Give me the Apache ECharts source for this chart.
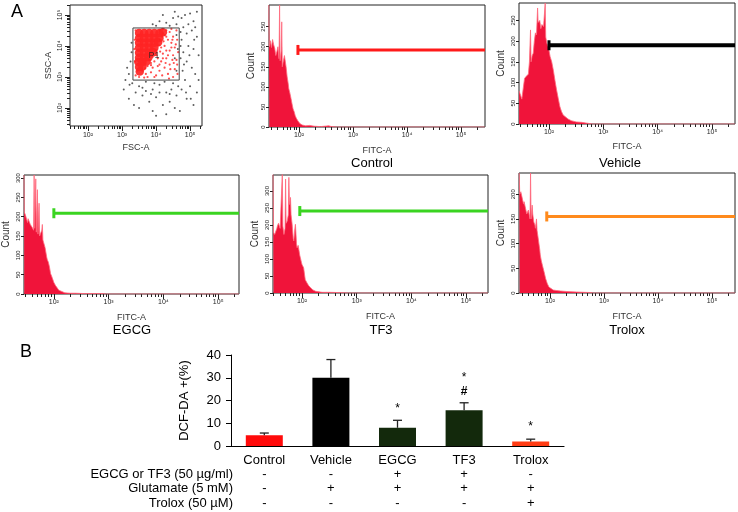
<!DOCTYPE html>
<html>
<head>
<meta charset="utf-8">
<script src="https://cdn.jsdelivr.net/npm/echarts@6/dist/echarts.min.js"></script>
<style>html,body{margin:0;padding:0;background:#fff}#c{width:738px;height:512px}</style>
</head>
<body>
<div id="c"></div>
<script>
// ---------------- DATA ----------------
const barCategories = ['Control', 'Vehicle', 'EGCG', 'TF3', 'Trolox'];
const barValues = [4.7, 30, 8, 15.7, 2];
const barErrors = [1.0, 8, 3.3, 3.3, 1.0];
const sigStar = ['', '', '*', '*', '*'];
const sigHash = ['', '', '', '#', ''];
const rowLabels = ['EGCG or TF3 (50 µg/ml)', 'Glutamate (5 mM)', 'Trolox (50 µM)'];
const rowEgcgTf3 = ['-', '-', '+', '+', '-'];
const rowGlutamate = ['-', '+', '+', '+', '+'];
const rowTrolox = ['-', '-', '-', '-', '+'];
const yTicksBar = [0, 10, 20, 30, 40];

const logMajor = [2, 3, 4, 5];
const logLabels = ['10²', '10³', '10⁴', '10⁵'];

// FITC-A histograms: [log10(FITC), count]
const histControl = [[1.44,304],[1.45,200],[1.47,215],[1.49,198],[1.51,218],[1.53,205],[1.55,196],[1.57,178],[1.59,188],[1.61,200],[1.63,170],[1.64,304],[1.65,165],[1.67,190],[1.68,262],[1.69,150],[1.71,165],[1.73,178],[1.75,182],[1.76,150],[1.78,125],[1.8,108],[1.81,96],[1.83,85],[1.85,72],[1.87,58],[1.89,45],[1.91,38],[1.93,28],[1.95,22],[1.98,15],[2.02,8],[2.06,5],[2.12,3],[2.2,4],[2.28,2],[2.4,1],[2.55,3],[2.6,1],[2.7,0],[5.44,0]];
const histVehicle = [[1.45,80],[1.47,82],[1.5,60],[1.53,58],[1.55,110],[1.58,115],[1.6,118],[1.62,120],[1.64,150],[1.66,227],[1.67,150],[1.69,165],[1.71,171],[1.73,200],[1.75,220],[1.77,215],[1.79,280],[1.8,245],[1.83,250],[1.85,230],[1.87,240],[1.9,235],[1.93,292],[1.94,210],[1.96,195],[1.99,185],[2.02,163],[2.05,150],[2.08,130],[2.11,105],[2.14,82],[2.17,62],[2.2,42],[2.23,30],[2.26,22],[2.29,18],[2.35,12],[2.41,8],[2.5,5],[2.6,4],[2.7,2],[2.8,0],[5.42,0]];
const histEgcg = [[1.455,308],[1.46,212],[1.48,205],[1.5,203],[1.52,185],[1.53,195],[1.55,198],[1.57,180],[1.59,175],[1.61,171],[1.63,165],[1.64,308],[1.65,170],[1.67,298],[1.68,160],[1.7,270],[1.71,155],[1.73,235],[1.74,150],[1.76,153],[1.78,165],[1.79,180],[1.8,140],[1.82,143],[1.84,120],[1.85,116],[1.87,95],[1.88,89],[1.9,82],[1.92,70],[1.94,53],[1.96,46],[1.98,38],[2.0,30],[2.03,22],[2.06,16],[2.09,10],[2.12,7],[2.2,3],[2.3,2],[2.4,2],[2.57,1],[2.88,1],[2.95,0],[5.38,0]];
const histTf3 = [[1.47,350],[1.48,178],[1.5,172],[1.52,168],[1.54,190],[1.55,197],[1.57,205],[1.58,202],[1.6,190],[1.61,187],[1.63,195],[1.64,350],[1.65,197],[1.67,172],[1.69,190],[1.7,335],[1.71,205],[1.73,212],[1.75,230],[1.76,340],[1.77,260],[1.79,281],[1.8,230],[1.82,202],[1.84,160],[1.85,153],[1.87,190],[1.88,202],[1.9,145],[1.91,133],[1.93,140],[1.94,138],[1.96,110],[1.97,104],[1.99,90],[2.0,84],[2.03,74],[2.05,50],[2.06,39],[2.09,30],[2.12,22],[2.16,15],[2.2,9],[2.25,5],[2.37,2],[2.5,2],[2.74,1],[2.85,0],[5.4,0]];
const histTrolox = [[1.43,243],[1.44,200],[1.46,205],[1.48,195],[1.49,192],[1.51,180],[1.52,185],[1.54,175],[1.55,172],[1.57,160],[1.58,158],[1.6,168],[1.61,165],[1.63,150],[1.64,243],[1.65,150],[1.67,178],[1.68,160],[1.7,144],[1.72,138],[1.73,131],[1.75,150],[1.76,127],[1.78,112],[1.79,104],[1.81,88],[1.82,77],[1.84,65],[1.86,56],[1.89,43],[1.92,29],[1.95,19],[1.98,12],[2.0,9],[2.06,6],[2.12,5],[2.2,4],[2.31,3],[2.49,2],[2.73,1],[2.8,0],[5.43,0]];

// gate markers: [start log10, end log10, count]
const gateControl = [1.98, 5.444, 192];
const gateVehicle = [2.0, 5.423, 190];
const gateEgcg = [2.0, 5.38, 209];
const gateTf3 = [1.96, 5.40, 241];
const gateTrolox = [1.94, 5.426, 155];

const yTicksControl = [0, 50, 100, 150, 200, 250];
const yTicksVehicle = [0, 50, 100, 150, 200, 250];
const yTicksEgcg = [0, 50, 100, 150, 200, 250, 300];
const yTicksTf3 = [0, 50, 100, 150, 200, 250, 300, 350];
const yTicksTrolox = [0, 50, 100, 150, 200];

// FSC-A / SSC-A dot plot (log10 units)
const gateP1 = [[3.32,4.58],[4.68,4.58],[4.68,2.9],[3.32,2.9],[3.32,4.58]];
const p1Label = [3.94, 3.68];
const scatterRedDense = [
 [3.5,4.42],[3.65,4.42],[3.8,4.42],[3.95,4.42],[4.1,4.42],[4.2,4.44],
 [3.5,4.26],[3.65,4.26],[3.8,4.26],[3.95,4.26],[4.1,4.26],
 [3.5,4.1],[3.65,4.1],[3.8,4.1],[3.95,4.1],[4.06,4.12],
 [3.5,3.94],[3.65,3.94],[3.8,3.94],[3.95,3.94],
 [3.5,3.78],[3.65,3.78],[3.8,3.78],[3.92,3.8],
 [3.5,3.62],[3.65,3.62],[3.78,3.64],
 [3.48,3.48],[3.6,3.48],[3.72,3.5],
 [3.5,3.32],[3.6,3.34],[3.52,3.18]
];
const scatterRedSparse = [[4.1,4.5],[4.2,4.4],[4.3,4.5],[4.4,4.45],[4.5,4.3],[4.6,4.5],[4.35,4.2],[4.45,4.1],[4.25,4.0],[4.55,3.95],[4.4,3.85],[4.2,3.75],[4.5,3.7],[4.3,3.6],[4.6,3.55],[4.15,3.5],[4.4,3.4],[4.25,3.3],[4.55,3.25],[4.1,3.2],[4.35,3.1],[4.0,3.05],[4.5,3.0],[3.9,3.3],[3.85,3.15],[3.95,3.0],[3.75,3.35],[3.7,3.1],[3.65,2.98],[3.45,3.2],[3.4,3.05],[3.38,3.5],[3.36,3.9],[3.37,4.2],[3.4,4.5],[4.62,4.2],[4.65,3.8],[4.62,3.4],[4.63,3.1],[4.05,3.6],[4.0,3.85],[4.15,3.95],[4.3,3.85],[4.45,4.55],[4.2,4.55],[4.05,3.35],[3.8,3.55],[3.85,3.45],[4.48,3.55],[4.58,4.05],[4.12,4.2],[4.22,4.15],[3.6,3.2],[3.5,3.0],[3.75,3.0],[4.28,3.45],[4.42,3.25],[4.18,3.05],[4.38,2.95],[4.52,3.45],[4.3,4.3],[4.48,4.2],[4.35,3.7],[4.2,3.6],[4.1,3.4],[3.95,3.5],[4.45,3.95],[4.25,4.35],[4.08,4.02],[4.18,4.3],[4.02,3.7],[3.9,3.65],[4.12,3.82],[3.85,3.38],[3.68,3.28]];
const scatterBlack = [[4.75,4.9],[4.85,5.0],[5.0,5.05],[5.1,4.8],[5.2,5.1],[4.8,4.6],[4.9,4.4],[5.05,4.5],[5.2,4.3],[4.75,4.2],[4.95,4.0],[5.1,3.9],[4.8,3.8],[5.25,3.7],[4.9,3.5],[5.05,3.3],[4.78,3.2],[5.15,3.1],[4.85,2.9],[5.0,2.7],[5.2,2.5],[4.9,2.3],[5.1,2.1],[4.75,2.6],[5.25,2.9],[4.72,3.6],[4.72,4.0],[4.95,4.7],[5.15,4.6],[4.72,4.45],
 [3.9,4.7],[4.1,4.8],[4.3,4.75],[4.5,4.9],[4.6,4.7],[4.2,5.0],[4.4,4.65],[4.0,4.65],[4.55,5.1],[4.65,4.95],
 [3.3,2.8],[3.5,2.7],[3.7,2.85],[3.9,2.6],[4.1,2.75],[4.3,2.5],[4.5,2.8],[4.6,2.4],[3.6,2.4],[3.8,2.2],[4.0,2.35],[4.2,2.1],[4.4,2.2],[4.55,2.0],[3.4,2.5],[3.2,2.3],[3.5,2.0],[3.9,1.9],[4.3,1.8],[4.1,2.5],[3.7,2.55],[4.45,2.6],[4.25,2.85],[3.95,2.8],[4.65,2.7],[3.35,2.1],[4.0,1.75],[4.7,1.9],
 [3.2,3.1],[3.25,3.5],[3.1,2.9],[3.28,3.8],[3.15,3.3],[3.22,2.75],[3.05,2.6],[3.28,4.1],
 [4.6,4.35],[4.64,3.9],[4.55,3.6],[4.6,3.2],[4.98,3.7],[5.12,4.2],[4.82,3.4],[4.88,2.5],[5.02,2.3],[4.4,2.45],[3.85,2.45],[3.6,2.65]];

// ---------------- LAYOUT / STYLE ----------------
const FONT = 'Liberation Sans, Arial, DejaVu Sans, sans-serif';
const AX = '#222';
function minorTicks(lo, hi) {
  const out = [];
  for (let d = 0; d <= 6; d++) for (let k = 1; k <= 9; k++) {
    const v = d + Math.log10(k);
    if (v > lo && v < hi) out.push(v);
  }
  return out;
}
const panels = [
  {name:'Control', data:histControl, gate:gateControl, yt:yTicksControl, color:'#ff1a1a', lw:3, left:269, top:5, width:216, height:122, xmin:1.444, xmax:5.444, ymax:304, nameGap:19, tx:372, ty:163},
  {name:'Vehicle', data:histVehicle, gate:gateVehicle, yt:yTicksVehicle, color:'#000000', lw:4, left:519, top:3, width:216, height:121, xmin:1.448, xmax:5.423, ymax:292, nameGap:18, tx:620, ty:163},
  {name:'EGCG', data:histEgcg, gate:gateEgcg, yt:yTicksEgcg, color:'#3ad421', lw:3, left:23, top:175, width:216, height:119, xmin:1.455, xmax:5.38, ymax:308, nameGap:19, tx:132, ty:330},
  {name:'TF3', data:histTf3, gate:gateTf3, yt:yTicksTf3, color:'#3ad421', lw:3, left:273, top:175, width:215, height:118, xmin:1.47, xmax:5.40, ymax:347, nameGap:19, tx:381, ty:330},
  {name:'Trolox', data:histTrolox, gate:gateTrolox, yt:yTicksTrolox, color:'#ff8a1c', lw:3, left:519, top:173, width:216, height:120, xmin:1.426, xmax:5.426, ymax:243, nameGap:19, tx:627, ty:330}
];

const grids = [], xAxes = [], yAxes = [], series = [], graphics = [];

// scatter panel (grid 0)
grids.push({left:70, top:5, width:132, height:121, show:true, borderColor:AX, borderWidth:1});
const sxMin = 1.47, sxMax = 5.35, syMin = 1.42, syMax = 5.32;
xAxes.push({gridIndex:0, position:'bottom', type:'value', min:sxMin, max:sxMax, axisLine:{show:false}, splitLine:{show:false},
  axisTick:{customValues:logMajor, length:5, lineStyle:{color:AX}},
  axisLabel:{customValues:logMajor, formatter:v=>logLabels[logMajor.indexOf(v)], fontSize:7, margin:6, color:AX, fontFamily:FONT},
  name:'FSC-A', nameLocation:'middle', nameGap:17, nameTextStyle:{fontSize:9, color:'#333', fontFamily:FONT}});
xAxes.push({gridIndex:0, position:'bottom', type:'value', min:sxMin, max:sxMax, axisLine:{show:false}, splitLine:{show:false}, axisLabel:{show:false},
  axisTick:{customValues:minorTicks(sxMin, sxMax), length:3, lineStyle:{color:AX}}});
yAxes.push({gridIndex:0, position:'left', type:'value', min:syMin, max:syMax, axisLine:{show:false}, splitLine:{show:false},
  axisTick:{customValues:logMajor, length:5, lineStyle:{color:AX}},
  axisLabel:{customValues:logMajor, formatter:v=>logLabels[logMajor.indexOf(v)], rotate:90, fontSize:7, margin:6, color:AX, fontFamily:FONT},
  name:'SSC-A', nameLocation:'middle', nameGap:17, nameTextStyle:{fontSize:9, color:'#333', fontFamily:FONT}});
yAxes.push({gridIndex:0, position:'left', type:'value', min:syMin, max:syMax, axisLine:{show:false}, splitLine:{show:false}, axisLabel:{show:false},
  axisTick:{customValues:minorTicks(syMin, syMax), length:3, lineStyle:{color:AX}}});
series.push({type:'scatter', xAxisIndex:0, yAxisIndex:0, data:scatterBlack, symbolSize:2, itemStyle:{color:'#333'}, silent:true});
series.push({type:'scatter', xAxisIndex:0, yAxisIndex:0, data:scatterRedDense, symbolSize:8.5, itemStyle:{color:'#ff2424', opacity:0.92}, silent:true});
series.push({type:'scatter', xAxisIndex:0, yAxisIndex:0, data:scatterRedSparse, symbolSize:2.2, itemStyle:{color:'#ff2020'}, silent:true});
series.push({type:'line', xAxisIndex:0, yAxisIndex:0, data:gateP1, symbol:'none', lineStyle:{color:'#444', width:1}, z:5});
series.push({type:'scatter', xAxisIndex:0, yAxisIndex:0, data:[p1Label], symbolSize:0, z:6,
  label:{show:true, position:'inside', formatter:'P1', fontSize:9, color:'#222', fontFamily:FONT}});

// histogram panels
panels.forEach((p, k) => {
  const gi = k + 1;
  grids.push({left:p.left, top:p.top, width:p.width, height:p.height, show:true, borderColor:AX, borderWidth:1});
  const xi = xAxes.length;
  xAxes.push({gridIndex:gi, position:'bottom', type:'value', min:p.xmin, max:p.xmax, axisLine:{show:false}, splitLine:{show:false},
    axisTick:{customValues:logMajor, length:5, lineStyle:{color:AX}},
    axisLabel:{customValues:logMajor, formatter:v=>logLabels[logMajor.indexOf(v)], fontSize:7, margin:5, color:AX, fontFamily:FONT},
    name:'FITC-A', nameLocation:'middle', nameGap:p.nameGap, nameTextStyle:{fontSize:9, color:'#333', fontFamily:FONT}});
  xAxes.push({gridIndex:gi, position:'bottom', type:'value', min:p.xmin, max:p.xmax, axisLine:{show:false}, splitLine:{show:false}, axisLabel:{show:false},
    axisTick:{customValues:minorTicks(p.xmin, p.xmax), length:3, lineStyle:{color:AX}}});
  const yi = yAxes.length;
  yAxes.push({gridIndex:gi, position:'left', type:'value', min:0, max:p.ymax, axisLine:{show:false}, splitLine:{show:false},
    axisTick:{customValues:p.yt, length:3, lineStyle:{color:AX}},
    axisLabel:{customValues:p.yt, rotate:90, fontSize:6, margin:3, color:AX, fontFamily:FONT},
    name:'Count', nameLocation:'middle', nameGap:13, nameTextStyle:{fontSize:10, color:'#333', fontFamily:FONT}});
  series.push({type:'line', xAxisIndex:xi, yAxisIndex:yi, data:p.data, symbol:'none', z:2,
    lineStyle:{color:'#ff6a7c', width:0.8}, areaStyle:{color:'#f0143a', opacity:1}});
  series.push({type:'line', xAxisIndex:xi, yAxisIndex:yi, z:4, symbol:'rect', symbolSize:[3, 10], showAllSymbol:true,
    itemStyle:{color:p.color}, lineStyle:{color:p.color, width:p.lw},
    data:[{value:[p.gate[0], p.gate[2]]}, {value:[p.gate[1], p.gate[2]], symbol:'none'}]});
  graphics.push({type:'text', x:p.tx, y:p.ty, style:{text:p.name, font:'13px ' + FONT, fill:'#000', align:'center', verticalAlign:'middle'}});
});

// bar chart (grid 6)
const bgi = grids.length;
grids.push({left:231, top:355, width:333, height:91});
const bxi = xAxes.length;
xAxes.push({gridIndex:bgi, type:'category', data:barCategories, axisLine:{lineStyle:{color:'#000', width:1.2}}, axisTick:{show:false},
  axisLabel:{fontSize:13, color:'#000', margin:8, fontFamily:FONT}});
const byi = yAxes.length;
yAxes.push({gridIndex:bgi, type:'value', min:0, max:40, interval:10, axisLine:{show:true, lineStyle:{color:'#000', width:1}},
  axisTick:{show:true, length:5, lineStyle:{color:'#000'}}, splitLine:{show:false},
  axisLabel:{fontSize:13, color:'#000', margin:10, fontFamily:FONT},
  name:'DCF-DA +(%)', nameLocation:'middle', nameGap:40, nameTextStyle:{fontSize:13, color:'#000', fontFamily:FONT}});
const barColors = ['#ff0a0a', '#000000', '#13290c', '#13290c', '#ff3c14'];
series.push({type:'bar', xAxisIndex:bxi, yAxisIndex:byi, barWidth:37,
  data:barValues.map((v, i) => ({value:v, itemStyle:{color:barColors[i]}}))});
series.push({type:'custom', xAxisIndex:bxi, yAxisIndex:byi, z:5,
  data:barCategories.map((c, i) => [i, barValues[i], barErrors[i]]),
  renderItem:(params, api) => {
    const i = api.value(0), v = api.value(1), e = api.value(2);
    const b = api.coord([i, v]), t = api.coord([i, v + e]);
    const st = {stroke:'#222', lineWidth:1.3};
    const ch = [
      {type:'line', shape:{x1:b[0], y1:b[1], x2:t[0], y2:t[1]}, style:st},
      {type:'line', shape:{x1:t[0] - 4.5, y1:t[1], x2:t[0] + 4.5, y2:t[1]}, style:st}
    ];
    const idx = params.dataIndex;
    if (sigHash[idx]) ch.push({type:'text', style:{text:sigHash[idx], x:t[0], y:t[1] - 11, font:'bold 12px ' + FONT, fill:'#000', align:'center', verticalAlign:'middle'}});
    if (sigStar[idx]) ch.push({type:'text', style:{text:sigStar[idx], x:t[0], y:t[1] - (sigHash[idx] ? 25 : 12), font:'12px ' + FONT, fill:'#000', align:'center', verticalAlign:'middle'}});
    return {type:'group', children:ch};
  }});
series.push({type:'custom', xAxisIndex:bxi, yAxisIndex:byi, z:5, clip:false,
  data:barCategories.map((c, i) => [i, 0]),
  renderItem:(params, api) => {
    const i = params.dataIndex;
    const p = api.coord([api.value(0), 0]);
    const rows = [rowEgcgTf3[i], rowGlutamate[i], rowTrolox[i]];
    const dy = [28, 42, 57];
    return {type:'group', children:rows.map((s, r) => ({type:'text',
      style:{text:s, x:p[0], y:p[1] + dy[r], font:'13px ' + FONT, fill:'#000', align:'center', verticalAlign:'middle'}}))};
  }});
rowLabels.forEach((t, r) => {
  graphics.push({type:'text', x:233, y:[474, 488, 503][r], style:{text:t, font:'13px ' + FONT, fill:'#000', align:'right', verticalAlign:'middle'}});
});
graphics.push({type:'text', x:17, y:12, style:{text:'A', font:'18px ' + FONT, fill:'#000', align:'center', verticalAlign:'middle'}});
graphics.push({type:'text', x:26, y:352, style:{text:'B', font:'18px ' + FONT, fill:'#000', align:'center', verticalAlign:'middle'}});

const chart = echarts.init(document.getElementById('c'), null, {renderer:'canvas'});
chart.setOption({
  animation:false,
  backgroundColor:'#fff',
  textStyle:{fontFamily:FONT},
  grid:grids, xAxis:xAxes, yAxis:yAxes, series:series, graphic:graphics
});
</script>
</body>
</html>
